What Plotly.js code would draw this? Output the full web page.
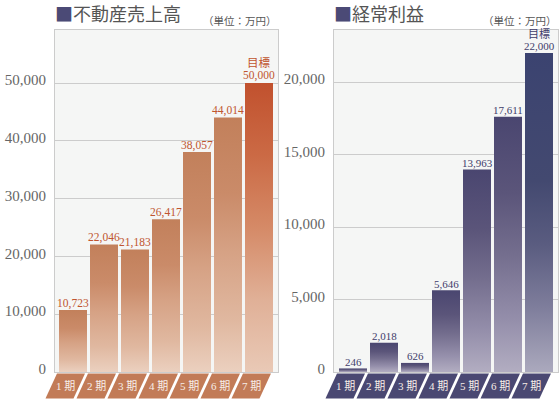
<!DOCTYPE html>
<html>
<head>
<meta charset="utf-8">
<script src="https://cdn.plot.ly/plotly-3.0.1.min.js"></script>
<style>html,body{margin:0;padding:0;background:#fff;}#chart{width:560px;height:400px;}</style>
</head>
<body>
<div id="chart"></div>
<script>
// ---- data ----
const categories = ['1 期', '2 期', '3 期', '4 期', '5 期', '6 期', '7 期'];
const salesValues = [10723, 22046, 21183, 26417, 38057, 44014, 50000];
const profitValues = [246, 2018, 626, 5646, 13963, 17611, 22000];
const salesTicks = [0, 10000, 20000, 30000, 40000, 50000];
const profitTicks = [0, 5000, 10000, 15000, 20000];
const targetLabel = '目標';
const salesTitle = '不動産売上高';
const profitTitle = '経常利益';
const unitLabel = '（単位：万円）';

// ---- styling ----
const W = 560, H = 400;
const NUM_FONT = 'Liberation Serif, Noto Sans CJK JP, serif';
const JP_FONT = 'Noto Sans CJK JP, sans-serif';
const plotTop = 30, plotBottom = 372;
const pitch = 31, barPx = 28;

const panels = [
  {
    values: salesValues, ticks: salesTicks, title: salesTitle,
    left: 55, right: 278, firstCenter: 73, yTop: 59170,
    xa: 'x', ya: 'y', xk: 'xaxis', yk: 'yaxis',
    labelColor: '#c0552f', tabColor: '#c27b57', targetGap: 13.5, labelSize: 11.5,
    scale: [[0, '#ebd0bf'], [0.2, '#e0b8a0'], [0.47, '#d6a285'], [0.7, '#ca8b69'], [1, '#c2805b']],
    lastScale: [[0, '#e9c9b6'], [0.25, '#e0b097'], [0.5, '#d58a67'], [0.75, '#cb6a45'], [1, '#c1512e']]
  },
  {
    values: profitValues, ticks: profitTicks, title: profitTitle,
    left: 334, right: 558, firstCenter: 353, yTop: 23586,
    xa: 'x2', ya: 'y2', xk: 'xaxis2', yk: 'yaxis2',
    labelColor: '#3f3d6b', tabColor: '#4a4872', targetGap: 12.5, labelSize: 11,
    scale: [[0, '#b2adc1'], [0.2, '#958fab'], [0.46, '#746e8e'], [0.7, '#5b557a'], [1, '#4a4670']],
    lastScale: [[0, '#aba9bd'], [0.2, '#7f7e9c'], [0.4, '#5a5c80'], [0.6, '#434970'], [1, '#3b4370']]
  }
];

const fmt = v => v.toLocaleString('en-US');
const traces = [];
const shapes = [];
const annotations = [];
const layout = {
  width: W, height: H, autosize: false,
  margin: {l: 0, r: 0, t: 0, b: 0, pad: 0},
  paper_bgcolor: '#ffffff', plot_bgcolor: '#f5f6f5',
  showlegend: false, hovermode: false,
  font: {family: NUM_FONT, color: '#666'}
};

const idx = categories.map((c, i) => i);
const half = barPx / pitch / 2;

panels.forEach(p => {
  const r0 = -(p.firstCenter - p.left) / pitch;
  const r1 = (categories.length - 1) + (p.right - (p.firstCenter + (categories.length - 1) * pitch)) / pitch;
  layout[p.xk] = {
    domain: [p.left / W, p.right / W], range: [r0, r1], anchor: p.ya,
    showticklabels: false, showgrid: false, zeroline: false,
    showline: true, mirror: true, linecolor: '#cccccc', linewidth: 1, fixedrange: true
  };
  layout[p.yk] = {
    domain: [1 - plotBottom / H, 1 - plotTop / H], range: [0, p.yTop], anchor: p.xa,
    tickvals: p.ticks, tickformat: ',', ticks: '', ticklabelstandoff: 5, ticklabelshift: -3,
    tickfont: {family: NUM_FONT, size: 15, color: '#666'},
    showgrid: true, gridcolor: '#cccccc', gridwidth: 1, zeroline: false,
    showline: true, mirror: true, linecolor: '#cccccc', linewidth: 1, fixedrange: true
  };

  // bar trace (transparent carrier on the category axis)
  traces.push({
    type: 'bar', x: idx, y: p.values, width: barPx / pitch,
    xaxis: p.xa, yaxis: p.ya,
    marker: {color: 'rgba(0,0,0,0)', line: {width: 0}},
    hoverinfo: 'skip'
  });

  // gradient-filled bar bodies
  p.values.forEach((v, i) => {
    const last = i === p.values.length - 1;
    traces.push({
      type: 'scatter', mode: 'lines', xaxis: p.xa, yaxis: p.ya,
      x: [i - half, i + half, i + half, i - half, i - half],
      y: [0, 0, v, v, 0],
      line: {width: 0}, fill: 'toself',
      fillgradient: {type: 'vertical', colorscale: last ? p.lastScale : p.scale},
      hoverinfo: 'skip'
    });
    // value label
    annotations.push({xref: p.xa, yref: p.ya, x: i, y: v, xanchor: 'center', yanchor: 'bottom',
      yshift: -0.5, showarrow: false, text: fmt(v), borderpad: 0,
      font: {family: NUM_FONT, size: p.labelSize, color: p.labelColor}});
    if (last) {
      annotations.push({xref: p.xa, yref: p.ya, x: i, y: v, xanchor: 'center', yanchor: 'bottom',
        yshift: -0.5 + p.targetGap, showarrow: false, text: targetLabel, borderpad: 0,
        font: {family: NUM_FONT, size: p.labelSize, color: p.labelColor}});
    }
  });

  // category tabs (parallelograms) below the axis
  categories.forEach((c, i) => {
    const cx = p.firstCenter + i * pitch;
    const yT = 373.5, yB = 398.5, sk = 11.5;
    const pts = [[cx - 16, yT], [cx + 12, yT], [cx + 12 - sk, yB], [cx - 16 - sk, yB]];
    const path = 'M' + pts.map(q => (q[0] / W).toFixed(5) + ',' + (1 - q[1] / H).toFixed(5)).join(' L') + ' Z';
    shapes.push({type: 'path', xref: 'paper', yref: 'paper', path: path,
      fillcolor: p.tabColor, line: {width: 0}, layer: 'above'});
    annotations.push({xref: 'paper', yref: 'paper', x: (cx - 8) / W, y: 1 - 386 / H,
      xanchor: 'center', yanchor: 'middle', showarrow: false, text: c,
      font: {family: NUM_FONT, size: 11, color: '#f7eee8'}});
  });

  // panel title and unit
  annotations.push({xref: 'paper', yref: 'paper', x: (p.left - 2) / W, y: 1 - 13 / H,
    xanchor: 'left', yanchor: 'middle', showarrow: false,
    text: '<span style="color:#4b4a76">■</span>' + p.title,
    font: {family: JP_FONT, size: 18, color: '#555555'}});
  annotations.push({xref: 'paper', yref: 'paper', x: p.right / W, y: 1 - 20 / H,
    xanchor: 'right', yanchor: 'middle', showarrow: false, text: unitLabel, borderpad: 0,
    font: {family: JP_FONT, size: 10.5, color: '#555555'}});
});

layout.shapes = shapes;
layout.annotations = annotations;

Plotly.newPlot('chart', traces, layout, {staticPlot: true, displayModeBar: false});
</script>
</body>
</html>
